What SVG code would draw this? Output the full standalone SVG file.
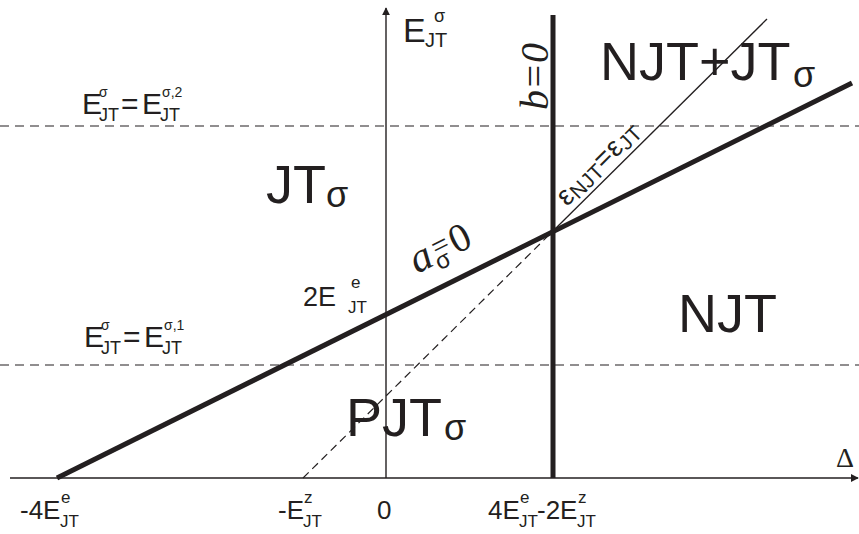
<svg xmlns="http://www.w3.org/2000/svg" width="859" height="534" viewBox="0 0 859 534">
<style>
text{font-family:"Liberation Sans",Arial,sans-serif;fill:#231f20}
.b{font-size:26px}
.s{font-size:17px}
.t{font-size:14px}
.big{font-size:54px}
.bs{font-size:36px}
.lb{font-size:30px}
.ls{font-size:18px}
.sr{font-family:"Liberation Serif","Times New Roman",serif;font-style:italic}
.ax{stroke:#231f20;stroke-width:1.4;fill:none}
.thick{stroke:#231f20;stroke-width:5;fill:none}
.thin{stroke:#231f20;stroke-width:1.3;fill:none}
.dash{stroke:#231f20;stroke-width:1.2;fill:none;stroke-dasharray:9 6}
.dash2{stroke:#231f20;stroke-width:1.2;fill:none;stroke-dasharray:8 5}
</style>
<defs>
<marker id="ah" viewBox="0 0 10 10" refX="9" refY="5" markerWidth="8" markerHeight="8" markerUnits="userSpaceOnUse" orient="auto">
<path d="M0,0 L10,5 L0,10 z" fill="#231f20"/>
</marker>
</defs>
<rect width="859" height="534" fill="#fff"/>
<g id="connectors">
<line class="dash" x1="0" y1="126" x2="859" y2="126"/>
<line class="dash" x1="0" y1="365" x2="859" y2="365"/>
<line class="ax" x1="10" y1="478" x2="858" y2="478" marker-end="url(#ah)"/>
<line class="ax" x1="386" y1="478" x2="386" y2="8" marker-end="url(#ah)"/>
<line class="dash2" x1="303" y1="478" x2="553" y2="231"/>
<line class="thin" x1="553" y1="231" x2="767" y2="19"/>
<line class="thick" x1="553" y1="15" x2="553" y2="478"/>
<line class="thick" x1="57" y1="478" x2="852" y2="83"/>
</g>
<g id="axis-y-label">
<text x="403" y="42" style="font-size:34px">E</text>
<text x="434" y="22" class="ls">σ</text>
<text x="425" y="47" style="font-size:20px">JT</text>
</g>
<g id="axis-x-label">
<text x="836" y="467" style="font-family:'Liberation Serif','Times New Roman',serif;font-size:28px">Δ</text>
</g>
<g id="level-2">
<text x="82" y="114" class="lb">E</text>
<text x="99" y="97" class="t">σ</text>
<text x="99" y="121" class="ls">JT</text>
<text x="121" y="114" class="lb">=</text>
<text x="142" y="114" class="lb">E</text>
<text x="162" y="97" class="t">σ,2</text>
<text x="160" y="121" class="ls">JT</text>
</g>
<g id="level-1">
<text x="84" y="347" class="lb">E</text>
<text x="101" y="330" class="t">σ</text>
<text x="101" y="354" class="ls">JT</text>
<text x="123" y="347" class="lb">=</text>
<text x="144" y="347" class="lb">E</text>
<text x="164" y="330" class="t">σ,1</text>
<text x="162" y="354" class="ls">JT</text>
</g>
<g id="region-NJT-JT">
<text x="600" y="80" class="big">NJT+JT</text>
<text x="793" y="87" class="bs">σ</text>
</g>
<g id="region-JT">
<text x="266" y="203" class="big">JT</text>
<text x="326" y="207" class="bs">σ</text>
</g>
<g id="region-NJT">
<text x="678" y="332" class="big">NJT</text>
</g>
<g id="region-PJT">
<text x="346" y="436" class="big">PJT</text>
<text x="444" y="440" class="bs">σ</text>
</g>
<g id="label-b0" transform="translate(548,110) rotate(-90)">
<text x="0" y="0" class="sr" style="font-size:40px">b=0</text>
</g>
<g id="label-a0" transform="translate(417,274) rotate(-26.5)">
<text x="0" y="0" class="sr" style="font-size:42px">a</text>
<text x="22" y="7" style="font-size:24px">σ</text>
<text x="25" y="-6" style="font-family:'Liberation Serif',serif;font-size:30px">=</text>
<text x="44" y="0" style="font-family:'Liberation Serif',serif;font-size:40px">0</text>
</g>
<g id="label-eps" transform="translate(567,207) rotate(-45)">
<text x="0" y="0" style="font-size:28px">ε</text>
<text x="13" y="3" style="font-size:21px">NJT</text>
<text x="52" y="0" style="font-size:28px">=</text>
<text x="69" y="0" style="font-size:28px">ε</text>
<text x="82" y="3" style="font-size:21px">JT</text>
</g>
<g id="label-2E">
<text x="303" y="306" style="font-size:27px">2E</text>
<text x="351" y="288" class="s">e</text>
<text x="348" y="313" class="s">JT</text>
</g>
<g id="tick-m4E">
<text x="20" y="519" class="b">-4E</text>
<text x="61" y="503" class="s">e</text>
<text x="60" y="527" class="s">JT</text>
</g>
<g id="tick-mE">
<text x="278" y="519" class="b">-E</text>
<text x="304" y="503" class="s">z</text>
<text x="303" y="527" class="s">JT</text>
</g>
<g id="tick-0">
<text x="377" y="519" class="b">0</text>
</g>
<g id="tick-4E2E">
<text x="488" y="519" class="b">4E</text>
<text x="520" y="503" class="s">e</text>
<text x="519" y="527" class="s">JT</text>
<text x="537" y="519" class="b">-2E</text>
<text x="578" y="503" class="s">z</text>
<text x="577" y="527" class="s">JT</text>
</g>
</svg>
